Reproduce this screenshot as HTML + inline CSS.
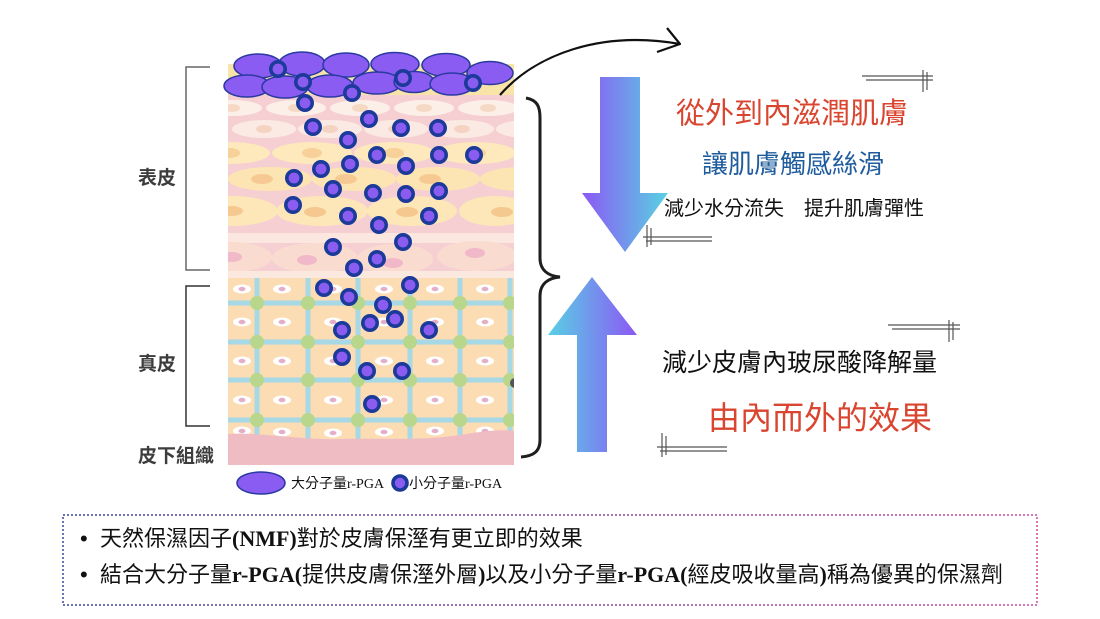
<!DOCTYPE html>
<html><head><meta charset="utf-8">
<style>
html,body{margin:0;padding:0;background:#fff;}
svg{display:block;}
</style></head>
<body>
<svg width="1100" height="619" viewBox="0 0 1100 619" xmlns="http://www.w3.org/2000/svg">
<defs>
<linearGradient id="gd" x1="582" y1="0" x2="668" y2="0" gradientUnits="userSpaceOnUse">
<stop offset="0" stop-color="#8c58f4"/><stop offset="1" stop-color="#58d2e2"/></linearGradient>
<linearGradient id="gu" x1="548" y1="0" x2="637" y2="0" gradientUnits="userSpaceOnUse">
<stop offset="0" stop-color="#58d0e4"/><stop offset="1" stop-color="#8c58f4"/></linearGradient>
<linearGradient id="gb" x1="63" y1="0" x2="1037" y2="0" gradientUnits="userSpaceOnUse">
<stop offset="0" stop-color="#6a72b4"/><stop offset="1" stop-color="#d877b8"/></linearGradient>
<clipPath id="ce"><rect x="228" y="95" width="286" height="184"/></clipPath>
<clipPath id="cd"><rect x="228" y="278" width="286" height="187"/></clipPath>
</defs>

<!-- beige strip behind corneum -->
<rect x="228" y="64" width="286" height="32" fill="#f8e3a9"/>

<!-- epidermis -->
<g clip-path="url(#ce)">
<rect x="228" y="95" width="286" height="184" fill="#f5cfd2"/>
<g fill="#fcefe8">
<ellipse cx="232" cy="108" rx="30" ry="8"/><ellipse cx="296" cy="108" rx="30" ry="8"/><ellipse cx="360" cy="108" rx="30" ry="8"/><ellipse cx="424" cy="108" rx="30" ry="8"/><ellipse cx="488" cy="108" rx="30" ry="8"/>
</g>
<g fill="#f6d9c4">
<ellipse cx="232" cy="108" rx="8" ry="4"/><ellipse cx="296" cy="108" rx="8" ry="4"/><ellipse cx="360" cy="108" rx="8" ry="4"/><ellipse cx="424" cy="108" rx="8" ry="4"/><ellipse cx="488" cy="108" rx="8" ry="4"/>
</g>
<g fill="#fbeae3">
<ellipse cx="264" cy="129" rx="32" ry="9"/><ellipse cx="330" cy="129" rx="32" ry="9"/><ellipse cx="396" cy="129" rx="32" ry="9"/><ellipse cx="462" cy="129" rx="32" ry="9"/><ellipse cx="528" cy="129" rx="32" ry="9"/>
</g>
<g fill="#f5d3c3">
<ellipse cx="264" cy="129" rx="8" ry="4"/><ellipse cx="330" cy="129" rx="8" ry="4"/><ellipse cx="396" cy="129" rx="8" ry="4"/><ellipse cx="462" cy="129" rx="8" ry="4"/>
</g>
<g fill="#fde9bc">
<ellipse cx="230" cy="153" rx="40" ry="11"/><ellipse cx="312" cy="153" rx="40" ry="11"/><ellipse cx="394" cy="153" rx="40" ry="11"/><ellipse cx="476" cy="153" rx="40" ry="11"/>
</g>
<g fill="#f7d09a">
<ellipse cx="230" cy="153" rx="10" ry="5"/><ellipse cx="312" cy="153" rx="10" ry="5"/><ellipse cx="394" cy="153" rx="10" ry="5"/><ellipse cx="476" cy="153" rx="10" ry="5"/>
</g>
<g fill="#fde5b3">
<ellipse cx="270" cy="179" rx="42" ry="12"/><ellipse cx="354" cy="179" rx="42" ry="12"/><ellipse cx="438" cy="179" rx="42" ry="12"/><ellipse cx="522" cy="179" rx="42" ry="12"/>
</g>
<g fill="#f6c993">
<ellipse cx="262" cy="179" rx="11" ry="5"/><ellipse cx="346" cy="179" rx="11" ry="5"/><ellipse cx="430" cy="179" rx="11" ry="5"/>
</g>
<g fill="#fde6b8">
<ellipse cx="232" cy="211" rx="46" ry="15"/><ellipse cx="322" cy="211" rx="46" ry="15"/><ellipse cx="412" cy="211" rx="45" ry="15"/><ellipse cx="495" cy="211" rx="36" ry="15"/>
</g>
<g fill="#f5c890">
<ellipse cx="232" cy="211" rx="11" ry="5"/><ellipse cx="315" cy="212" rx="11" ry="5"/><ellipse cx="407" cy="212" rx="11" ry="5"/><ellipse cx="502" cy="212" rx="11" ry="5"/>
</g>
<rect x="228" y="233" width="286" height="10" fill="#fbe7df"/>
<g fill="#f9dccf">
<ellipse cx="232" cy="257" rx="40" ry="15"/><ellipse cx="315" cy="258" rx="43" ry="15"/><ellipse cx="395" cy="259" rx="38" ry="15"/><ellipse cx="477" cy="256" rx="40" ry="15"/>
</g>
<g fill="#f0b8c8">
<ellipse cx="232" cy="257" rx="10" ry="5"/><ellipse cx="307" cy="260" rx="10" ry="5"/><ellipse cx="393" cy="263" rx="10" ry="5"/><ellipse cx="475" cy="253" rx="10" ry="5"/>
</g>
<rect x="228" y="271" width="286" height="8" fill="#fbe8df"/>
</g>

<!-- dermis -->
<g clip-path="url(#cd)">
<rect x="228" y="278" width="286" height="187" fill="#fbdcb3"/>
<g stroke="#a6d9e5" stroke-width="5">
<line x1="228" y1="303" x2="514" y2="303"/><line x1="228" y1="342" x2="514" y2="342"/><line x1="228" y1="380" x2="514" y2="380"/><line x1="228" y1="420" x2="514" y2="420"/>
<line x1="257" y1="278" x2="257" y2="445"/><line x1="308" y1="278" x2="308" y2="445"/><line x1="358" y1="278" x2="358" y2="445"/><line x1="410" y1="278" x2="410" y2="445"/><line x1="460" y1="278" x2="460" y2="445"/><line x1="510" y1="278" x2="510" y2="445"/>
</g>
<g fill="#b8d78c">
<circle cx="257" cy="303" r="7"/><circle cx="308" cy="303" r="7"/><circle cx="358" cy="303" r="7"/><circle cx="410" cy="303" r="7"/><circle cx="460" cy="303" r="7"/><circle cx="510" cy="303" r="7"/>
<circle cx="257" cy="342" r="7"/><circle cx="308" cy="342" r="7"/><circle cx="358" cy="342" r="7"/><circle cx="410" cy="342" r="7"/><circle cx="460" cy="342" r="7"/><circle cx="510" cy="342" r="7"/>
<circle cx="257" cy="380" r="7"/><circle cx="308" cy="380" r="7"/><circle cx="358" cy="380" r="7"/><circle cx="410" cy="380" r="7"/><circle cx="460" cy="380" r="7"/><circle cx="510" cy="380" r="7"/>
<circle cx="257" cy="420" r="7"/><circle cx="308" cy="420" r="7"/><circle cx="358" cy="420" r="7"/><circle cx="410" cy="420" r="7"/><circle cx="460" cy="420" r="7"/><circle cx="510" cy="420" r="7"/>
</g>
<g fill="#ffffff">
<ellipse cx="242" cy="289" rx="9" ry="4.5"/><ellipse cx="282" cy="289" rx="9" ry="4.5"/><ellipse cx="333" cy="289" rx="9" ry="4.5"/><ellipse cx="384" cy="289" rx="9" ry="4.5"/><ellipse cx="435" cy="289" rx="9" ry="4.5"/><ellipse cx="485" cy="289" rx="9" ry="4.5"/>
<ellipse cx="242" cy="322" rx="9" ry="4.5"/><ellipse cx="282" cy="322" rx="9" ry="4.5"/><ellipse cx="333" cy="322" rx="9" ry="4.5"/><ellipse cx="384" cy="322" rx="9" ry="4.5"/><ellipse cx="435" cy="322" rx="9" ry="4.5"/><ellipse cx="485" cy="322" rx="9" ry="4.5"/>
<ellipse cx="242" cy="361" rx="9" ry="4.5"/><ellipse cx="282" cy="361" rx="9" ry="4.5"/><ellipse cx="333" cy="361" rx="9" ry="4.5"/><ellipse cx="384" cy="361" rx="9" ry="4.5"/><ellipse cx="435" cy="361" rx="9" ry="4.5"/><ellipse cx="485" cy="361" rx="9" ry="4.5"/>
<ellipse cx="242" cy="400" rx="9" ry="4.5"/><ellipse cx="282" cy="400" rx="9" ry="4.5"/><ellipse cx="333" cy="400" rx="9" ry="4.5"/><ellipse cx="384" cy="400" rx="9" ry="4.5"/><ellipse cx="435" cy="400" rx="9" ry="4.5"/><ellipse cx="485" cy="400" rx="9" ry="4.5"/>
<ellipse cx="242" cy="431" rx="9" ry="4.5"/><ellipse cx="282" cy="432" rx="9" ry="4.5"/><ellipse cx="333" cy="433" rx="9" ry="4.5"/><ellipse cx="384" cy="432" rx="9" ry="4.5"/><ellipse cx="435" cy="431" rx="9" ry="4.5"/><ellipse cx="485" cy="431" rx="9" ry="4.5"/>
</g>
<g fill="#e3afc6">
<ellipse cx="242" cy="289" rx="3.5" ry="2.2"/><ellipse cx="282" cy="289" rx="3.5" ry="2.2"/><ellipse cx="333" cy="289" rx="3.5" ry="2.2"/><ellipse cx="384" cy="289" rx="3.5" ry="2.2"/><ellipse cx="435" cy="289" rx="3.5" ry="2.2"/><ellipse cx="485" cy="289" rx="3.5" ry="2.2"/>
<ellipse cx="242" cy="322" rx="3.5" ry="2.2"/><ellipse cx="282" cy="322" rx="3.5" ry="2.2"/><ellipse cx="333" cy="322" rx="3.5" ry="2.2"/><ellipse cx="384" cy="322" rx="3.5" ry="2.2"/><ellipse cx="435" cy="322" rx="3.5" ry="2.2"/><ellipse cx="485" cy="322" rx="3.5" ry="2.2"/>
<ellipse cx="242" cy="361" rx="3.5" ry="2.2"/><ellipse cx="282" cy="361" rx="3.5" ry="2.2"/><ellipse cx="333" cy="361" rx="3.5" ry="2.2"/><ellipse cx="384" cy="361" rx="3.5" ry="2.2"/><ellipse cx="435" cy="361" rx="3.5" ry="2.2"/><ellipse cx="485" cy="361" rx="3.5" ry="2.2"/>
<ellipse cx="242" cy="400" rx="3.5" ry="2.2"/><ellipse cx="282" cy="400" rx="3.5" ry="2.2"/><ellipse cx="333" cy="400" rx="3.5" ry="2.2"/><ellipse cx="384" cy="400" rx="3.5" ry="2.2"/><ellipse cx="435" cy="400" rx="3.5" ry="2.2"/><ellipse cx="485" cy="400" rx="3.5" ry="2.2"/>
<ellipse cx="242" cy="431" rx="3.5" ry="2.2"/><ellipse cx="282" cy="432" rx="3.5" ry="2.2"/><ellipse cx="333" cy="433" rx="3.5" ry="2.2"/><ellipse cx="384" cy="432" rx="3.5" ry="2.2"/><ellipse cx="435" cy="431" rx="3.5" ry="2.2"/><ellipse cx="485" cy="431" rx="3.5" ry="2.2"/>
</g>
<path d="M228,434 C260,432 300,440 340,439 C380,438 420,441 460,435 C485,431 500,429 514,431 L514,466 L228,466 Z" fill="#f0bcc4"/>
<circle cx="515" cy="383" r="5" fill="#555"/>
</g>

<!-- corneum large ellipses -->
<g fill="#8a5cf2" stroke="#2a3aa0" stroke-width="1.5">
<ellipse cx="258" cy="66" rx="24" ry="12"/>
<ellipse cx="302" cy="64" rx="23" ry="12"/>
<ellipse cx="346" cy="65" rx="23" ry="12"/>
<ellipse cx="395" cy="64" rx="24" ry="11.5"/>
<ellipse cx="446" cy="65" rx="24" ry="11.5"/>
<ellipse cx="490" cy="73" rx="23" ry="11.5"/>
<ellipse cx="247" cy="86" rx="23" ry="11"/>
<ellipse cx="285" cy="87" rx="23" ry="11"/>
<ellipse cx="330" cy="86" rx="23" ry="11"/>
<ellipse cx="377" cy="83" rx="24" ry="11"/>
<ellipse cx="414" cy="82" rx="20" ry="10.5"/>
<ellipse cx="452" cy="84" rx="22" ry="11"/>
</g>

<!-- small molecules -->
<g fill="#8b5cf0" stroke="#1b3a9a" stroke-width="3.6">
<circle cx="278" cy="69" r="7.2"/><circle cx="303" cy="82" r="7.2"/><circle cx="352" cy="93" r="7.2"/><circle cx="403" cy="78" r="7.2"/><circle cx="473" cy="83" r="7.2"/>
<circle cx="305" cy="103" r="7.2"/><circle cx="369" cy="119" r="7.2"/><circle cx="313" cy="127" r="7.2"/><circle cx="401" cy="128" r="7.2"/><circle cx="438" cy="128" r="7.2"/>
<circle cx="348" cy="140" r="7.2"/><circle cx="377" cy="155" r="7.2"/><circle cx="439" cy="155" r="7.2"/><circle cx="474" cy="155" r="7.2"/><circle cx="350" cy="164" r="7.2"/>
<circle cx="406" cy="166" r="7.2"/><circle cx="321" cy="169" r="7.2"/><circle cx="294" cy="178" r="7.2"/><circle cx="333" cy="189" r="7.2"/><circle cx="373" cy="193" r="7.2"/>
<circle cx="406" cy="194" r="7.2"/><circle cx="439" cy="191" r="7.2"/><circle cx="293" cy="205" r="7.2"/><circle cx="348" cy="216" r="7.2"/><circle cx="379" cy="225" r="7.2"/>
<circle cx="429" cy="216" r="7.2"/><circle cx="333" cy="247" r="7.2"/><circle cx="403" cy="242" r="7.2"/><circle cx="377" cy="259" r="7.2"/><circle cx="354" cy="268" r="7.2"/>
<circle cx="324" cy="288" r="7.2"/><circle cx="410" cy="285" r="7.2"/><circle cx="349" cy="297" r="7.2"/><circle cx="383" cy="305" r="7.2"/><circle cx="370" cy="323" r="7.2"/>
<circle cx="395" cy="319" r="7.2"/><circle cx="342" cy="330" r="7.2"/><circle cx="429" cy="330" r="7.2"/><circle cx="342" cy="357" r="7.2"/><circle cx="367" cy="371" r="7.2"/>
<circle cx="402" cy="371" r="7.2"/><circle cx="372" cy="404" r="7.2"/>
</g>

<!-- legend -->
<ellipse cx="261" cy="483" rx="24" ry="11" fill="#8a5cf2" stroke="#2a3aa0" stroke-width="1.5"/>
<text x="291" y="488" font-family="'Liberation Serif','Noto Sans CJK TC',serif" font-size="14" fill="#111">大分子量r-PGA</text>
<circle cx="400" cy="483" r="7" fill="#8b5cf0" stroke="#1b3a9a" stroke-width="3.6"/>
<text x="409" y="488" font-family="'Liberation Serif','Noto Sans CJK TC',serif" font-size="14" fill="#111">小分子量r-PGA</text>

<!-- left brackets & labels -->
<g fill="none" stroke="#666" stroke-width="1.5">
<path d="M210,67 H186 V270 H210"/>
<path d="M210,286 H186 V426 H210" stroke="#333"/>
</g>
<g font-family="'Liberation Sans','Noto Sans CJK TC',sans-serif" font-size="19" font-weight="bold" fill="#3d3d3d">
<text x="138" y="184">表皮</text>
<text x="138" y="370">真皮</text>
<text x="138" y="462">皮下組織</text>
</g>

<!-- curly brace -->
<path d="M526,98 C537,100 540,106 540,118 L540,258 C540,270 548,276 560,277 C548,278 540,284 540,296 L540,440 C540,452 533,456 521,457" fill="none" stroke="#1e1e1e" stroke-width="3"/>

<!-- curved arrow -->
<path d="M500,95 C535,55 600,30 680,44" fill="none" stroke="#111" stroke-width="2.2"/>
<path d="M667,28 L680,44 L657,52" fill="none" stroke="#111" stroke-width="2.2" stroke-linejoin="round"/>

<!-- big arrows -->
<polygon points="600,77 640,77 640,193 668,193 625,252 582,193 600,193" fill="url(#gd)"/>
<polygon points="592,277 637,335 607,335 607,452 577,452 577,335 548,335" fill="url(#gu)"/>

<!-- decorative marks -->
<g stroke="#555" stroke-width="1.2">
<line x1="862" y1="76" x2="933" y2="76"/><line x1="866" y1="80" x2="933" y2="80"/><line x1="923" y1="70" x2="923" y2="92"/><line x1="927" y1="72" x2="927" y2="90"/>
<line x1="643" y1="237" x2="712" y2="237"/><line x1="646" y1="241" x2="712" y2="241"/><line x1="647" y1="225" x2="647" y2="247"/><line x1="651" y1="228" x2="651" y2="245"/>
<line x1="888" y1="325" x2="960" y2="325"/><line x1="892" y1="329" x2="960" y2="329"/><line x1="949" y1="320" x2="949" y2="342"/><line x1="953" y1="322" x2="953" y2="340"/>
<line x1="657" y1="447" x2="727" y2="447"/><line x1="660" y1="451" x2="727" y2="451"/><line x1="662" y1="433" x2="662" y2="457"/><line x1="666" y1="436" x2="666" y2="455"/>
</g>

<!-- right texts -->
<g font-family="'Liberation Sans','Noto Sans CJK TC',sans-serif">
<text x="676" y="123" font-size="29" fill="#d9452f">從外到內滋潤肌膚</text>
<text x="702" y="173" font-size="26" fill="#1f5c9e">讓肌膚觸感絲滑</text>
<text x="664" y="215" font-size="20" fill="#111">減少水分流失　提升肌膚彈性</text>
<text x="662" y="371" font-size="25" fill="#111">減少皮膚內玻尿酸降解量</text>
<text x="708" y="429" font-size="32" fill="#d9452f">由內而外的效果</text>
</g>

<!-- bottom box -->
<rect x="63" y="515" width="974" height="90" fill="none" stroke="url(#gb)" stroke-width="2" stroke-dasharray="2 2"/>
<g font-family="'Noto Sans CJK TC','Liberation Sans',sans-serif" font-size="22" fill="#111">
<text x="80" y="546"><tspan font-family="'Liberation Sans',sans-serif">•</tspan></text>
<text x="80" y="582"><tspan font-family="'Liberation Sans',sans-serif">•</tspan></text>
<text x="100" y="546">天然保濕因子<tspan font-family="'Liberation Serif',serif" font-weight="bold">(NMF)</tspan>對於皮膚保溼有更立即的效果</text>
<text x="100" y="582">結合大分子量<tspan font-family="'Liberation Serif',serif" font-weight="bold">r-PGA(</tspan>提供皮膚保溼外層<tspan font-family="'Liberation Serif',serif" font-weight="bold">)</tspan>以及小分子量<tspan font-family="'Liberation Serif',serif" font-weight="bold">r-PGA(</tspan>經皮吸收量高<tspan font-family="'Liberation Serif',serif" font-weight="bold">)</tspan>稱為優異的保濕劑</text>
</g>
</svg>
</body></html>
